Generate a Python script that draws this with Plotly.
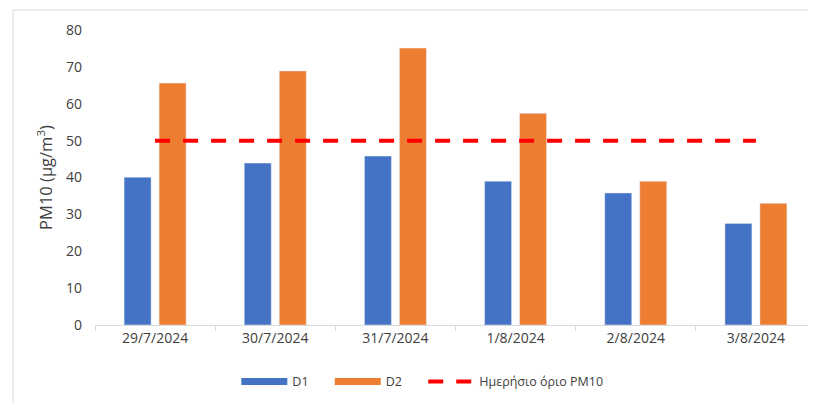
import plotly.graph_objects as go

dates = ["29/7/2024", "30/7/2024", "31/7/2024", "1/8/2024", "2/8/2024", "3/8/2024"]
d1 = [40.1, 43.9, 45.8, 39.0, 35.8, 27.5]
d2 = [65.6, 68.9, 75.1, 57.4, 39.0, 33.0]
limit = [50, 50, 50, 50, 50, 50]
y_ticks = [0, 10, 20, 30, 40, 50, 60, 70, 80]
legend_names = ["D1", "D2", "Ημερήσιο όριο PM10"]

BLUE = "#4472C4"
ORANGE = "#ED7D31"
RED = "#FF0000"
TXT = "#404040"
FONT = "Open Sans"
PAD = "&nbsp;" * 5

fig = go.Figure()
fig.add_trace(go.Bar(x=dates, y=d1, name="D1", marker=dict(color=BLUE), showlegend=False))
fig.add_trace(go.Bar(x=dates, y=d2, name="D2", marker=dict(color=ORANGE), showlegend=False))
fig.add_trace(go.Scatter(x=dates, y=limit, mode="lines", name="Ημερήσιο όριο PM10",
                         line=dict(color=RED, width=4, dash="15px,13px"), showlegend=False))
# legend entries
fig.add_trace(go.Scatter(x=[None], y=[None], mode="lines", name=legend_names[0] + PAD,
                         line=dict(color=BLUE, width=7)))
fig.add_trace(go.Scatter(x=[None], y=[None], mode="lines", name=legend_names[1] + PAD,
                         line=dict(color=ORANGE, width=7)))
fig.add_trace(go.Scatter(x=[None], y=[None], mode="lines", name=legend_names[2],
                         line=dict(color=RED, width=4, dash="15px,13px")))

# The page body adds an 8px offset, so the figure is 8px smaller and margins shifted.
fig.update_layout(
    width=808, height=395,
    margin=dict(l=87, r=0, t=22, b=78),
    paper_bgcolor="white", plot_bgcolor="white",
    font=dict(family=FONT, size=14, color=TXT),
    barmode="group", bargap=0.4175, bargroupgap=0.229,
    showlegend=True,
    legend=dict(orientation="h", x=0.196, xanchor="left", y=-0.193, yanchor="middle",
                font=dict(family=FONT, size=12.5, color=TXT), itemwidth=46,
                traceorder="normal"),
    xaxis=dict(type="category", range=[-0.5, 5.5], showline=True, linecolor="#D9D9D9",
               linewidth=1, ticks="outside", tickson="boundaries", ticklen=5,
               tickcolor="#D9D9D9", showgrid=False, zeroline=False,
               tickfont=dict(family=FONT, size=14, color=TXT)),
    yaxis=dict(range=[0, 80], tickvals=y_ticks, showgrid=False, zeroline=False,
               showline=False, ticks="", ticklabelstandoff=12,
               tickfont=dict(family=FONT, size=14, color=TXT),
               title=dict(text="PM10 (μg/m<sup>3</sup>)", standoff=9,
                          font=dict(family=FONT, size=16.5, color=TXT))),
    shapes=[
        dict(type="line", xref="paper", yref="paper", x0=-0.1137, x1=-0.1137, y0=-0.3, y1=1.0678,
             line=dict(color="#D9D9D9", width=1), layer="below"),
        dict(type="line", xref="paper", yref="paper", x0=-0.1137, x1=1.0, y0=1.0678, y1=1.0678,
             line=dict(color="#D9D9D9", width=1), layer="below"),
    ],
)

fig.write_html("out.html")
